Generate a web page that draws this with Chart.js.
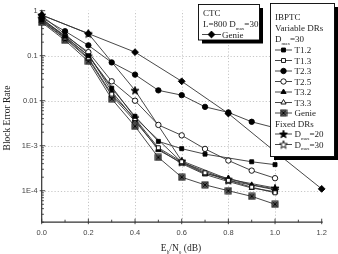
<!DOCTYPE html>
<html>
<head>
<meta charset="utf-8">
<script src="https://cdn.jsdelivr.net/npm/chart.js@4.4.0/dist/chart.umd.min.js"></script>
<style>
html,body{margin:0;padding:0;background:#fff;overflow:hidden}
#c{display:block}
</style>
</head>
<body>
<canvas id="c" width="338" height="254" style="width:338px;height:254px"></canvas>
<script>
// Eb/No points (dB)
var snr = [0, 0.1, 0.2, 0.3, 0.4, 0.5, 0.6, 0.7, 0.8, 0.9, 1.0];
var snrFixed = [0, 0.2, 0.4, 0.6, 0.8, 1.0];
var snrCtc = [0, 0.2, 0.4, 0.6, 0.8, 1.0, 1.2];

// block error rates
var t12 = [0.62, 0.27, 0.10, 0.019, 0.0045, 1.25e-3, 8.6e-4, 6.5e-4, null, 4.4e-4, 3.8e-4];
var t13 = [0.60, 0.25, 0.09, 0.014, 0.0040, 9.0e-4, 4.4e-4, 2.5e-4, 1.7e-4, 1.2e-4, 9.0e-5];
var t23 = [0.70, 0.35, 0.17, 0.071, 0.038, 0.017, 0.0133, 0.0073, 0.0055, 0.0034, 0.0025];
var t25 = [0.65, 0.28, 0.12, 0.027, 0.010, 2.9e-3, 1.7e-3, 8.5e-4, 4.7e-4, 2.8e-4, 1.9e-4];
var t32 = [0.78, 0.30, 0.11, 0.016, 0.0038, 8.0e-4, 4.2e-4, 2.4e-4, 1.9e-4, 1.35e-4, 1.1e-4];
var t33 = [0.58, 0.24, 0.085, 0.013, 0.0035, 8.5e-4, 4.0e-4, 2.3e-4, 1.6e-4, 1.15e-4, 9.5e-5];
var genie = [0.55, 0.22, 0.075, 0.011, 0.0027, 5.5e-4, 2.0e-4, 1.35e-4, 1.0e-4, 7.5e-5, 5.0e-5];
var fixed20 = [0.80, 0.31, 0.017, 4.6e-4, 1.8e-4, 1.15e-4];
var fixed30 = [0.68, 0.10, 0.0042, 4.3e-4, 1.7e-4, 1.05e-4];
var ctcGenie = [0.80, 0.31, 0.12, 0.027, 0.0052, 7.4e-4, 1.1e-4];

var xTicks = [0, 0.2, 0.4, 0.6, 0.8, 1.0, 1.2];
var xTickLabels = ["0.0", "0.2", "0.4", "0.6", "0.8", "1.0", "1.2"];
var yTicks = [1, 0.1, 0.01, 1e-3, 1e-4];
var yTickLabels = ["1", "0.1", "0.01", "1E-3", "1E-4"];

var serif = "'Liberation Serif', 'DejaVu Serif', serif";
var sans = "'Liberation Sans', Arial, sans-serif";
var ink = "#1e1e1e";

function starImg(filled) {
    var c = document.createElement("canvas");
    c.width = 10; c.height = 10;
    var g = c.getContext("2d");
    g.beginPath();
    for (var i = 0; i < 10; i++) {
        var r = i % 2 ? 1.7 : 4.2;
        var a = -Math.PI / 2 + i * Math.PI / 5;
        g.lineTo(5 + r * Math.cos(a), 5.4 + r * Math.sin(a));
    }
    g.closePath();
    g.fillStyle = filled ? "#000" : "#fff";
    g.fill();
    g.lineWidth = 0.9;
    g.strokeStyle = "#000";
    g.stroke();
    return c;
}

function genieImg() {
    var c = document.createElement("canvas");
    c.width = 8; c.height = 8;
    var g = c.getContext("2d");
    g.fillStyle = "#999";
    g.fillRect(1, 1, 6, 6);
    g.strokeStyle = "#000";
    g.lineWidth = 0.9;
    g.strokeRect(1, 1, 6, 6);
    g.beginPath();
    g.moveTo(1.5, 4); g.lineTo(6.5, 4);
    g.moveTo(4, 1.5); g.lineTo(4, 6.5);
    g.moveTo(2, 2); g.lineTo(6, 6);
    g.moveTo(6, 2); g.lineTo(2, 6);
    g.stroke();
    return c;
}

var starFilled = starImg(true);
var starOpen = starImg(false);
var genieMark = genieImg();

function pts(xs, ys) {
    var out = [];
    for (var i = 0; i < xs.length; i++) {
        out.push({x: xs[i], y: ys[i]});
    }
    return out;
}

function series(label, xs, ys, style, fill, radius) {
    return {
        label: label,
        data: pts(xs, ys),
        borderColor: "#333",
        borderWidth: 0.9,
        pointStyle: style,
        pointRadius: radius || 2.8,
        pointBackgroundColor: fill,
        pointBorderColor: "#000",
        pointBorderWidth: 0.9,
        spanGaps: true,
        tension: 0,
        clip: false
    };
}

var datasets = [
    series("CTC Genie", snrCtc, ctcGenie, "rectRot", "#000", 3.4),
    series("T1.2", snr, t12, "rect", "#000", 2.8),
    series("T1.3", snr, t13, "rect", "#fff", 2.8),
    series("T2.3", snr, t23, "circle", "#000", 2.7),
    series("T2.5", snr, t25, "circle", "#fff", 2.7),
    series("T3.2", snr, t32, "triangle", "#000", 3.0),
    series("T3.3", snr, t33, "triangle", "#fff", 3.0),
    series("Genie", snr, genie, genieMark, "#fff", 4),
    series("Dmax=20", snrFixed, fixed20, starFilled, "#000", 5),
    series("Dmax=30", snrFixed, fixed30, starOpen, "#fff", 5)
];

// text with optional subscript pieces: [[text, isSub], ...]
function richText(g, parts, x, y, size) {
    var cx = x;
    for (var i = 0; i < parts.length; i++) {
        var p = parts[i];
        if (p[1]) {
            g.font = (size * 0.55) + "px " + serif;
            g.fillText(p[0], cx, y + size * 0.28);
        } else {
            g.font = size + "px " + serif;
            g.fillText(p[0], cx, y);
        }
        cx += g.measureText(p[0]).width;
    }
    return cx - x;
}

function richWidth(g, parts, size) {
    var w = 0;
    for (var i = 0; i < parts.length; i++) {
        g.font = (parts[i][1] ? size * 0.55 : size) + "px " + serif;
        w += g.measureText(parts[i][0]).width;
    }
    return w;
}

var frame = {
    id: "frame",
    beforeDatasetsDraw: function(chart) {
        var g = chart.ctx;
        var xs = chart.scales.x, ys = chart.scales.y;
        var a = chart.chartArea;
        g.save();
        // dotted grid
        g.strokeStyle = "#b8b8b8";
        g.lineWidth = 0.8;
        g.setLineDash([1.2, 2]);
        for (var i = 1; i < xTicks.length - 1; i++) {
            var px = Math.round(xs.getPixelForValue(xTicks[i])) + 0.5;
            g.beginPath(); g.moveTo(px, a.bottom); g.lineTo(px, a.top); g.stroke();
        }
        for (var j = 1; j < yTicks.length; j++) {
            var py = Math.round(ys.getPixelForValue(yTicks[j])) + 0.5;
            g.beginPath(); g.moveTo(a.left, py); g.lineTo(a.right, py); g.stroke();
        }
        g.setLineDash([]);
        // axes
        g.strokeStyle = "#333";
        g.lineWidth = 1.2;
        g.beginPath();
        g.moveTo(a.left, a.top - 1);
        g.lineTo(a.left, a.bottom);
        g.lineTo(a.right + 1, a.bottom);
        g.stroke();
        g.lineWidth = 0.9;
        // x ticks
        g.beginPath();
        for (var k = 0; k <= 12; k++) {
            var v = k / 10;
            var tx = xs.getPixelForValue(v);
            if (k % 2 === 0) { g.moveTo(tx, a.bottom + 2); g.lineTo(tx, a.bottom - 3.5); }
            else { g.moveTo(tx, a.bottom); g.lineTo(tx, a.bottom - 2.5); }
        }
        // y ticks
        for (var e = 0; e >= -5; e--) {
            for (var m = 1; m <= 9; m++) {
                var val = m * Math.pow(10, e);
                if (val > 1 || val < 2e-5) continue;
                var ty = ys.getPixelForValue(val);
                if (m === 1) { g.moveTo(a.left - 2, ty); g.lineTo(a.left + 3.5, ty); }
                else { g.moveTo(a.left, ty); g.lineTo(a.left + 2.2, ty); }
            }
        }
        g.stroke();
        // tick labels
        g.fillStyle = "#444";
        g.font = "7.5px " + sans;
        g.textAlign = "center";
        g.textBaseline = "middle";
        for (var n = 0; n < xTicks.length; n++) {
            g.fillText(xTickLabels[n], xs.getPixelForValue(xTicks[n]), a.bottom + 10.5);
        }
        g.textAlign = "right";
        for (var q = 0; q < yTicks.length; q++) {
            g.fillText(yTickLabels[q], a.left - 4, ys.getPixelForValue(yTicks[q]));
        }
        // axis titles
        g.fillStyle = ink;
        g.textAlign = "left";
        g.textBaseline = "alphabetic";
        var xt = [["E", false], ["b", true], ["/N", false], ["o", true], [" (dB)", false]];
        var w = richWidth(g, xt, 9.5);
        richText(g, xt, 181 - w / 2, 251, 9.5);
        g.save();
        g.translate(10, 118);
        g.rotate(-Math.PI / 2);
        g.textAlign = "center";
        g.font = "9.5px " + serif;
        g.fillText("Block Error Rate", 0, 0);
        g.restore();
        g.restore();
    },
    afterDatasetsDraw: function(chart) {
        var g = chart.ctx;
        g.save();
        function box(x, y, w, h) {
            g.fillStyle = "#000";
            g.fillRect(x + 3.5, y + 3.5, w, h);
            g.fillStyle = "#fff";
            g.fillRect(x, y, w, h);
            g.strokeStyle = "#000";
            g.lineWidth = 0.9;
            g.strokeRect(x, y, w, h);
        }
        function entry(ds, x1, x2, y, tx, parts) {
            g.strokeStyle = "#333";
            g.lineWidth = 0.9;
            g.beginPath(); g.moveTo(x1, y); g.lineTo(x2, y); g.stroke();
            g.fillStyle = ds.pointBackgroundColor;
            g.strokeStyle = "#000";
            Chart.helpers.drawPoint(g, {
                pointStyle: ds.pointStyle, radius: ds.pointRadius,
                borderWidth: 0.9, rotation: 0
            }, (x1 + x2) / 2, y);
            g.fillStyle = ink;
            richText(g, parts, tx, y + 3, 9);
        }
        var ds = chart.data.datasets;

        box(198.5, 4.5, 61, 35.5);
        g.fillStyle = ink;
        g.textBaseline = "alphabetic";
        g.textAlign = "left";
        richText(g, [["CTC", false]], 203, 15.5, 9);
        richText(g, [["L=800 D", false], ["max", true], ["=30", false]], 203, 27, 9);
        entry(ds[0], 202, 221, 34.5, 222, [["Genie", false]]);

        box(270.5, 3.5, 64, 153);
        g.fillStyle = ink;
        richText(g, [["IBPTC", false]], 275, 20, 9);
        richText(g, [["Variable DRs", false]], 275, 31, 9);
        richText(g, [["D", false], ["max", true], ["=30", false]], 275, 42, 9);
        var names = ["T1.2", "T1.3", "T2.3", "T2.5", "T3.2", "T3.3", "Genie"];
        for (var i = 0; i < names.length; i++) {
            entry(ds[i + 1], 275, 292, 50 + i * 10.5, 294.5, [[names[i], false]]);
        }
        g.fillStyle = ink;
        richText(g, [["Fixed DRs", false]], 275, 127, 9);
        entry(ds[8], 275, 292, 134, 294.5, [["D", false], ["max", true], ["=20", false]]);
        entry(ds[9], 275, 292, 144.5, 294.5, [["D", false], ["max", true], ["=30", false]]);
        g.restore();
    }
};

var chart = new Chart(document.getElementById("c"), {
    type: "line",
    data: {datasets: datasets},
    options: {
        responsive: false,
        animation: false,
        layout: {padding: {left: 41.7, right: 16.3, top: 10.7, bottom: 31.8}},
        scales: {
            x: {type: "linear", min: 0, max: 1.2, display: false},
            y: {type: "logarithmic", min: 2e-5, max: 1, display: false}
        },
        plugins: {legend: {display: false}, tooltip: {enabled: false}}
    },
    plugins: [frame]
});
</script>
</body>
</html>
